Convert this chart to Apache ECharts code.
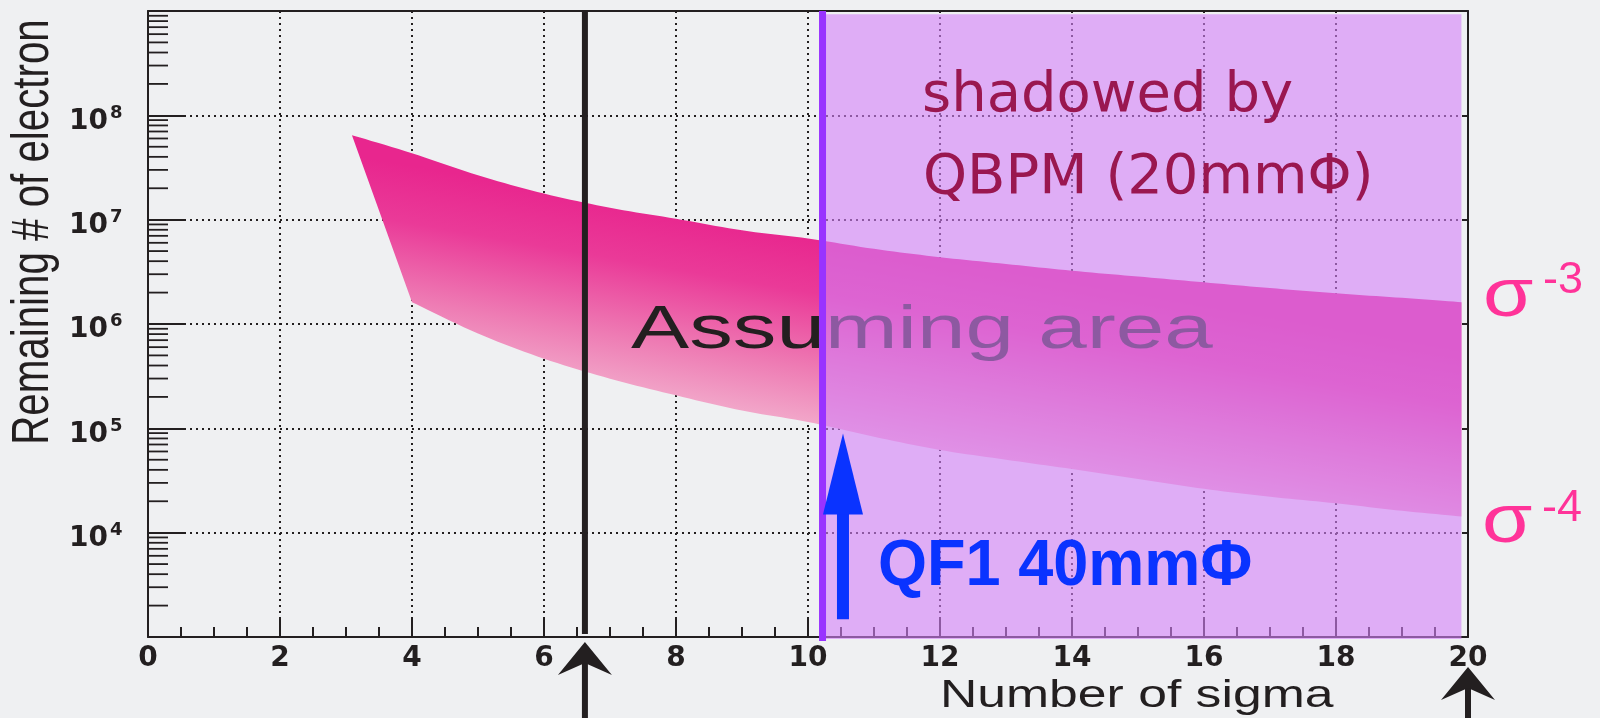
<!DOCTYPE html>
<html>
<head>
<meta charset="utf-8">
<script src="https://cdn.jsdelivr.net/npm/echarts@6/dist/echarts.min.js"></script>
<style>
html,body{margin:0;padding:0;background:#EFF0F2;}
#c{width:1600px;height:718px;}
</style>
</head>
<body>
<div id="c"></div>
<script>
// ---- data ----
const sigmaUpper = [3.09, 4, 5, 6, 7, 8, 9, 10, 11, 12, 13, 14, 15, 16, 17, 18, 19, 19.9];
const upperEdge  = [6.46e7, 4.33e7, 2.66e7, 1.78e7, 1.30e7, 1.02e7, 7.9e6, 6.6e6, 5.25e6, 4.37e6, 3.76e6, 3.24e6, 2.85e6, 2.51e6, 2.21e6, 1.97e6, 1.78e6, 1.62e6];
const sigmaLower = [4, 5, 6, 7, 8, 9, 10, 11, 12, 13, 14, 15, 16, 17, 18, 19, 19.9];
const lowerEdge  = [1.62e6, 8.1e5, 4.65e5, 2.99e5, 2.07e5, 1.48e5, 1.15e5, 8.3e4, 6.2e4, 5.0e4, 4.07e4, 3.27e4, 2.63e4, 2.21e4, 1.91e4, 1.62e4, 1.43e4];

const yLabelExponents = [4, 5, 6, 7, 8];
const minorMultipliers = [2, 3, 4, 5, 6, 7, 8, 9];
const minorDecades = [1e3, 1e4, 1e5, 1e6, 1e7, 1e8];

const cutSigma = 6.62;        // black vertical line + arrow
const qbpmSigma = 10.22;      // start of shadowed region
const shadeEndSigma = 19.9;
const shadeTopValue = 9.3e8;
const qf1Sigma = 10.53;
const qf1From = 1.48e3;
const qf1To = 8.9e4;
const endArrowSigma = 20;

const X_MIN = 0, X_MAX = 20, X_INTERVAL = 2;
const Y_MIN = 1e3, Y_MAX = 1e9;

const minorTickValues = [];
minorDecades.forEach(d => minorMultipliers.forEach(m => minorTickValues.push(m * d)));

const INK = '#231F20';

// smooth a pixel-space polyline (rendering only)
function smoothPixels(pts) {
  const out = [pts[0]];
  const n = pts.length;
  for (let i = 0; i < n - 1; i++) {
    const p0 = pts[Math.max(i - 1, 0)], p1 = pts[i], p2 = pts[i + 1], p3 = pts[Math.min(i + 2, n - 1)];
    const c1 = [p1[0] + (p2[0] - p0[0]) / 6, p1[1] + (p2[1] - p0[1]) / 6];
    const c2 = [p2[0] - (p3[0] - p1[0]) / 6, p2[1] - (p3[1] - p1[1]) / 6];
    for (let k = 1; k <= 10; k++) {
      const t = k / 10, u = 1 - t;
      out.push([
        u * u * u * p1[0] + 3 * u * u * t * c1[0] + 3 * u * t * t * c2[0] + t * t * t * p2[0],
        u * u * u * p1[1] + 3 * u * u * t * c1[1] + 3 * u * t * t * c2[1] + t * t * t * p2[1]
      ]);
    }
  }
  return out;
}

const chart = echarts.init(document.getElementById('c'), null, {renderer: 'canvas'});

const option = {
  backgroundColor: '#EFF0F2',
  animation: false,
  grid: {left: 148, top: 11, width: 1320, height: 626},
  xAxis: [{
    type: 'value', min: X_MIN, max: X_MAX, interval: X_INTERVAL, position: 'bottom',
    axisLine: {show: true, onZero: false, lineStyle: {color: INK, width: 2}},
    axisTick: {show: true, inside: true, length: 20, lineStyle: {color: INK, width: 2}},
    minorTick: {show: true, splitNumber: 4, length: 10, lineStyle: {color: INK, width: 2}},
    axisLabel: {color: INK, fontFamily: 'DejaVu Sans', fontWeight: 'bold', fontSize: 28, margin: 8},
    splitLine: {show: true, lineStyle: {type: [2, 4], width: 2, color: INK}}
  }, {
    type: 'value', min: X_MIN, max: X_MAX, position: 'top',
    axisLine: {show: true, onZero: false, lineStyle: {color: INK, width: 2}},
    axisTick: {show: false}, axisLabel: {show: false}, splitLine: {show: false}
  }],
  yAxis: [{
    type: 'log', logBase: 10, min: Y_MIN, max: Y_MAX, splitNumber: 6, position: 'left',
    axisLine: {show: true, onZero: false, lineStyle: {color: INK, width: 2}},
    axisTick: {show: true, inside: true, length: 37, lineStyle: {color: INK, width: 2}},
    axisLabel: {show: false},
    splitLine: {show: true, lineStyle: {type: [2, 4], width: 2, color: INK}}
  }, {
    type: 'log', logBase: 10, min: Y_MIN, max: Y_MAX, splitNumber: 6, position: 'right',
    axisLine: {show: true, onZero: false, lineStyle: {color: INK, width: 2}},
    axisTick: {show: true, inside: true, length: 4, lineStyle: {color: INK, width: 2}},
    axisLabel: {show: false}, splitLine: {show: false}
  }],
  graphic: [
    {type: 'text', z: 3, x: 631, y: 331, scaleX: 1.43,
     style: {text: 'Assuming area', font: '61px "Liberation Sans", Arial, sans-serif', fill: INK, align: 'left', verticalAlign: 'middle'}},
    {type: 'text', z: 10, x: 922, y: 96,
     style: {text: 'shadowed by', font: '56px "DejaVu Sans", sans-serif', fill: '#9A1750', align: 'left', verticalAlign: 'middle'}},
    {type: 'text', z: 10, x: 923, y: 178,
     style: {text: 'QBPM (20mmΦ)', font: '56px "DejaVu Sans", sans-serif', fill: '#9A1750', align: 'left', verticalAlign: 'middle'}},
    {type: 'text', z: 10, x: 878, y: 567, scaleX: 0.97,
     style: {text: 'QF1 40mmΦ', font: 'bold 65px "Liberation Sans", Arial, sans-serif', fill: '#0A33FF', align: 'left', verticalAlign: 'middle'}},
    {type: 'text', z: 10, x: 1483, y: 297, scaleX: 1.2,
     style: {text: 'σ', font: '68px "Liberation Sans", Arial, sans-serif', fill: '#FF3399', align: 'left', verticalAlign: 'middle'}},
    {type: 'text', z: 10, x: 1543, y: 281,
     style: {text: '-3', font: '45px "Liberation Sans", Arial, sans-serif', fill: '#FF3399', align: 'left', verticalAlign: 'middle'}},
    {type: 'text', z: 10, x: 1482, y: 523, scaleX: 1.2,
     style: {text: 'σ', font: '68px "Liberation Sans", Arial, sans-serif', fill: '#FF3399', align: 'left', verticalAlign: 'middle'}},
    {type: 'text', z: 10, x: 1542, y: 509,
     style: {text: '-4', font: '45px "Liberation Sans", Arial, sans-serif', fill: '#FF3399', align: 'left', verticalAlign: 'middle'}},
    {type: 'text', z: 10, x: 940, y: 697, scaleX: 1.36,
     style: {text: 'Number of sigma', font: '38px "Liberation Sans", Arial, sans-serif', fill: INK, align: 'left', verticalAlign: 'middle'}},
    {type: 'text', z: 10, x: 34, y: 232, rotation: Math.PI / 2, scaleX: 0.79,
     style: {text: 'Remaining # of electron', font: '51px "Liberation Sans", Arial, sans-serif', fill: INK, align: 'center', verticalAlign: 'middle'}}
  ],
  series: [
    // minor ticks of the log axis
    {
      type: 'custom', z: 2, silent: true, clip: false,
      data: minorTickValues.map(v => [X_MIN, v]),
      renderItem: function (params, api) {
        const p = api.coord([api.value(0), api.value(1)]);
        return {type: 'line', shape: {x1: p[0], y1: p[1], x2: p[0] + 20, y2: p[1]},
                style: {stroke: INK, lineWidth: 1.8}};
      }
    },
    // y tick labels 10^n
    {
      type: 'custom', z: 2, silent: true, clip: false,
      data: yLabelExponents.map(e => [X_MIN, Math.pow(10, e)]),
      renderItem: function (params, api) {
        const p = api.coord([api.value(0), api.value(1)]);
        const e = yLabelExponents[params.dataIndex];
        return {type: 'group', children: [
          {type: 'text', x: p[0] - 40, y: p[1] + 6,
           style: {text: '10', font: 'bold 28px "DejaVu Sans", sans-serif', fill: INK, align: 'right', verticalAlign: 'middle'}},
          {type: 'text', x: p[0] - 38, y: p[1] - 2.5,
           style: {text: String(e), font: 'bold 18px "DejaVu Sans", sans-serif', fill: INK, align: 'left', verticalAlign: 'middle'}}
        ]};
      }
    },
    // assumed band between the two edges
    {
      type: 'custom', z: 2, silent: true, clip: false,
      data: [[10, 1e5]],
      renderItem: function (params, api) {
        const up = sigmaUpper.map((s, i) => api.coord([s, upperEdge[i]]));
        const lo = sigmaLower.map((s, i) => api.coord([s, lowerEdge[i]]));
        const a = lo[0], b = lo[lo.length - 1];
        const ua = up[1], ub = up[up.length - 1];
        const dx = ((b[0] - a[0]) + (ub[0] - ua[0])) / 2, dy = ((b[1] - a[1]) + (ub[1] - ua[1])) / 2;
        const len = Math.sqrt(dx * dx + dy * dy);
        const px = -dy / len, py = dx / len;
        const mid = Math.floor(up.length / 2);
        const S = up[mid];
        const L = lo[mid - 1];
        const thick = (L[1] - S[1]) * py;
        const grad = {
          type: 'linear', global: true,
          x: S[0], y: S[1], x2: S[0] + px * thick, y2: S[1] + py * thick,
          colorStops: [
            {offset: 0, color: '#E8268E'},
            {offset: 0.3, color: '#EA3A98'},
            {offset: 0.7, color: '#EE7CB4'},
            {offset: 1, color: '#F2AACB'}
          ]
        };
        const topPts = smoothPixels(up);
        const lowPts = smoothPixels(lo).reverse();
        return {type: 'polygon', shape: {points: topPts.concat(lowPts)}, style: {fill: grad}};
      }
    },
    // black vertical line
    {
      type: 'custom', z: 3, silent: true, clip: false,
      data: [[cutSigma, Y_MIN]],
      renderItem: function (params, api) {
        const t = api.coord([cutSigma, Y_MAX]), b = api.coord([cutSigma, Y_MIN]);
        return {type: 'line', shape: {x1: t[0], y1: t[1], x2: b[0], y2: b[1] - 3},
                style: {stroke: INK, lineWidth: 6}};
      }
    },
    // shadowed region (QBPM)
    {
      type: 'custom', z: 4, silent: true, clip: false,
      data: [[qbpmSigma, Y_MIN]],
      renderItem: function (params, api) {
        const t = api.coord([qbpmSigma, shadeTopValue]);
        const r = api.coord([shadeEndSigma, Y_MIN]);
        const lt = api.coord([qbpmSigma, Y_MAX]);
        return {type: 'group', children: [
          {type: 'rect', shape: {x: t[0], y: t[1], width: r[0] - t[0], height: r[1] + 2 - t[1]},
           style: {fill: 'rgba(212,128,249,0.6)'}},
          {type: 'line', shape: {x1: lt[0], y1: lt[1], x2: lt[0], y2: r[1] + 4},
           style: {stroke: '#9933FF', lineWidth: 7}}
        ]};
      }
    },
    // arrows
    {
      type: 'custom', z: 6, silent: true, clip: false,
      data: [[qf1Sigma, qf1To]],
      renderItem: function (params, api) {
        function blackArrow(sig, drop) {
          const p = api.coord([sig, Y_MIN]);
          const cx = p[0], ty = p[1] + drop;
          return [
            {type: 'rect', shape: {x: cx - 3, y: ty + 18, width: 6, height: 120}, style: {fill: INK}},
            {type: 'polygon', shape: {points: [[cx, ty], [cx + 27, ty + 33], [cx, ty + 21], [cx - 27, ty + 33]]},
             style: {fill: INK}}
          ];
        }
        const tip = api.coord([qf1Sigma, qf1To]), tail = api.coord([qf1Sigma, qf1From]);
        const cx = tip[0];
        const blue = [
          {type: 'rect', shape: {x: cx - 6, y: tip[1] + 78, width: 12, height: tail[1] - tip[1] - 78}, style: {fill: '#0A33FF'}},
          {type: 'polygon', shape: {points: [[cx, tip[1]], [cx + 20, tip[1] + 81], [cx - 20, tip[1] + 81]]}, style: {fill: '#0A33FF'}}
        ];
        return {type: 'group', children: blackArrow(cutSigma, 5).concat(blackArrow(endArrowSigma, 30)).concat(blue)};
      }
    }
  ]
};
chart.setOption(option);
</script>
</body>
</html>
